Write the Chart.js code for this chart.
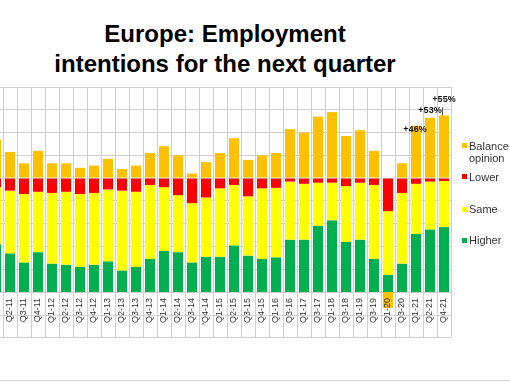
<!DOCTYPE html>
<html>
<head>
<meta charset="utf-8">
<script src="https://cdn.jsdelivr.net/npm/chart.js@4"></script>
<style>
html,body{margin:0;padding:0;background:#fff;overflow:hidden;width:510px;height:382px;font-family:"Liberation Sans",Arial,sans-serif;}
#wrap{position:absolute;left:-11px;top:0;width:521px;height:382px;}
#title{position:absolute;left:0;top:19px;width:450px;text-align:center;font-weight:bold;font-size:24px;line-height:30px;color:#000;}
.li{position:absolute;left:469px;width:42px;font-size:11px;line-height:12px;color:#333;}
.sw{position:absolute;left:462px;width:5px;height:5px;}
#bottomline{position:absolute;left:0;top:380px;width:510px;height:1px;background:#d4d4d4;}
</style>
</head>
<body>
<div id="title">Europe: Employment<br>intentions for the next quarter</div>
<div id="wrap"><canvas id="c"></canvas></div>
<div id="legend"></div>
<div id="bottomline"></div>
<script>
// ---- data (percent of respondents) ----
const quarters = ['Q1-11','Q2-11','Q3-11','Q4-11','Q1-12','Q2-12','Q3-12','Q4-12','Q1-13','Q2-13','Q3-13','Q4-13','Q1-14','Q2-14','Q3-14',"'Q4-14",'Q1-15','Q2-15','Q3-15','Q4-15','Q1-16','Q3-16','Q1-17','Q3-17','Q1-18','Q3-18','Q1-19','Q3-19','Q1-20','Q3-20','Q1-21','Q2-21','Q4-21'];
const higher  = [42, 34,26,35, 25,24,22,24, 27,19,22,29, 36,35,26,31, 31,41,32,29, 30.5,46, 46,58, 63,44, 46,29, 15,25, 51,55,57];
const same    = [50, 55,60,53, 62,64,64,63, 63,70,66,65, 56,50,52,52, 60,53,52,62, 61,51, 49,38, 33,49, 50,65, 56,62, 44,42,40.5];
const lower   = [8, 11,14,12, 13,12,14,13, 10,11,12,6, 8,15,22,17, 9,6,16,9, 8.5,3, 5,4, 4,7, 4,6, 29,13, 5,3,2.5];
const balance = [34, 23,13,24, 13,13,9,11, 17,8,11,22, 28,20,4,14, 22,35,16,20, 22,43, 40,54, 58,37, 42,24, -14,13, 46,53,55];
const labelledQuarters = ['Q1-21','Q2-21','Q4-21'];
const yTicks = {min:-100, max:80, step:20};
const seriesNames = ['Balance opinion','Lower','Same','Higher'];
const seriesColors = ['#FFC000','#FF0000','#FFFF00','#00B050'];

// ---- chart ----
const neg = a => a.map(v => -v);
const gridColor = '#CFCFCF';

const labelPlugin = {
  id: 'balanceLabels',
  afterDatasetsDraw(chart) {
    const ctx = chart.ctx;
    const meta = chart.getDatasetMeta(3);
    const place = {
      'Q1-21': {dx: -1, dy: 4, leader: false},
      'Q2-21': {dx: 0, dy: -7, leader: false},
      'Q4-21': {dx: 0, dy: -16, leader: true}
    };
    ctx.save();
    ctx.font = 'bold 9px "Liberation Sans", Arial, sans-serif';
    ctx.fillStyle = '#111';
    ctx.textAlign = 'center';
    ctx.textBaseline = 'middle';
    labelledQuarters.forEach(q => {
      const i = quarters.indexOf(q);
      const el = meta.data[i];
      const p = place[q] || {dx:0, dy:-8};
      const v = balance[i];
      const txt = (v > 0 ? '+' : '') + v + '%';
      const lx = el.x + p.dx, ly = el.y + p.dy;
      if (p.leader) {
        ctx.strokeStyle = '#555';
        ctx.lineWidth = 1;
        ctx.beginPath();
        ctx.moveTo(Math.round(el.x - 2) + 0.5, ly + 8);
        ctx.lineTo(Math.round(el.x - 2) + 0.5, el.y);
        ctx.stroke();
      }
      ctx.fillText(txt, lx, ly);
    });
    ctx.restore();
  }
};

const tableLines = {
  id: 'tableLines',
  afterDraw(chart) {
    const ctx = chart.ctx, a = chart.chartArea, x = chart.scales.x;
    ctx.save();
    ctx.strokeStyle = gridColor;
    ctx.lineWidth = 1;
    [23, 45].forEach(off => {
      const yy = Math.round(x.top + off) + 0.5;
      ctx.beginPath();
      ctx.moveTo(a.left, yy);
      ctx.lineTo(a.right + 0.5, yy);
      ctx.stroke();
    });
    ctx.restore();
  }
};

const chart = new Chart(document.getElementById('c'), {
  type: 'bar',
  data: {
    labels: quarters,
    datasets: [
      {label: seriesNames[1], data: neg(lower),  backgroundColor: seriesColors[1]},
      {label: seriesNames[2], data: neg(same),   backgroundColor: seriesColors[2]},
      {label: seriesNames[3], data: neg(higher), backgroundColor: seriesColors[3]},
      {label: seriesNames[0], data: balance,     backgroundColor: seriesColors[0], clip: false}
    ]
  },
  options: {
    responsive: true,
    maintainAspectRatio: false,
    animation: false,
    devicePixelRatio: 1,
    layout: {padding: {left: 0, right: 59, top: 87, bottom: 0}},
    datasets: {bar: {categoryPercentage: 1, barPercentage: 0.72, borderWidth: 0}},
    plugins: {legend: {display: false}, title: {display: false}, tooltip: {enabled: false}},
    scales: {
      x: {
        stacked: true,
        grid: {color: gridColor, tickLength: 45, offset: true, tickColor: gridColor},
        border: {color: gridColor},
        ticks: {
          autoSkip: false, maxRotation: 90, minRotation: 90, padding: -39, z: 1,
          color: '#333', font: {family: '"Liberation Sans", Arial, sans-serif', size: 9}
        },
        afterFit(s) { s.height = 90; s.paddingLeft = 0; s.paddingRight = 0; }
      },
      y: {
        stacked: true,
        min: yTicks.min, max: yTicks.max,
        ticks: {display: false, stepSize: yTicks.step},
        grid: {color: gridColor, drawTicks: false},
        border: {display: false},
        afterFit(s) { s.width = 0; s.paddingTop = 0; s.paddingBottom = 0; }
      }
    }
  },
  plugins: [labelPlugin, tableLines]
});

// ---- legend (HTML, built from the series arrays) ----
const legendY = [145.7, 176.7, 209.3, 240];
const lg = document.getElementById('legend');
seriesNames.forEach((n, k) => {
  const sw = document.createElement('div');
  sw.className = 'sw';
  sw.style.background = seriesColors[k];
  sw.style.top = (legendY[k] - 2.5) + 'px';
  lg.appendChild(sw);
  const t = document.createElement('div');
  t.className = 'li';
  t.textContent = n;
  t.style.top = (legendY[k] - 6) + 'px';
  lg.appendChild(t);
});
</script>
</body>
</html>
